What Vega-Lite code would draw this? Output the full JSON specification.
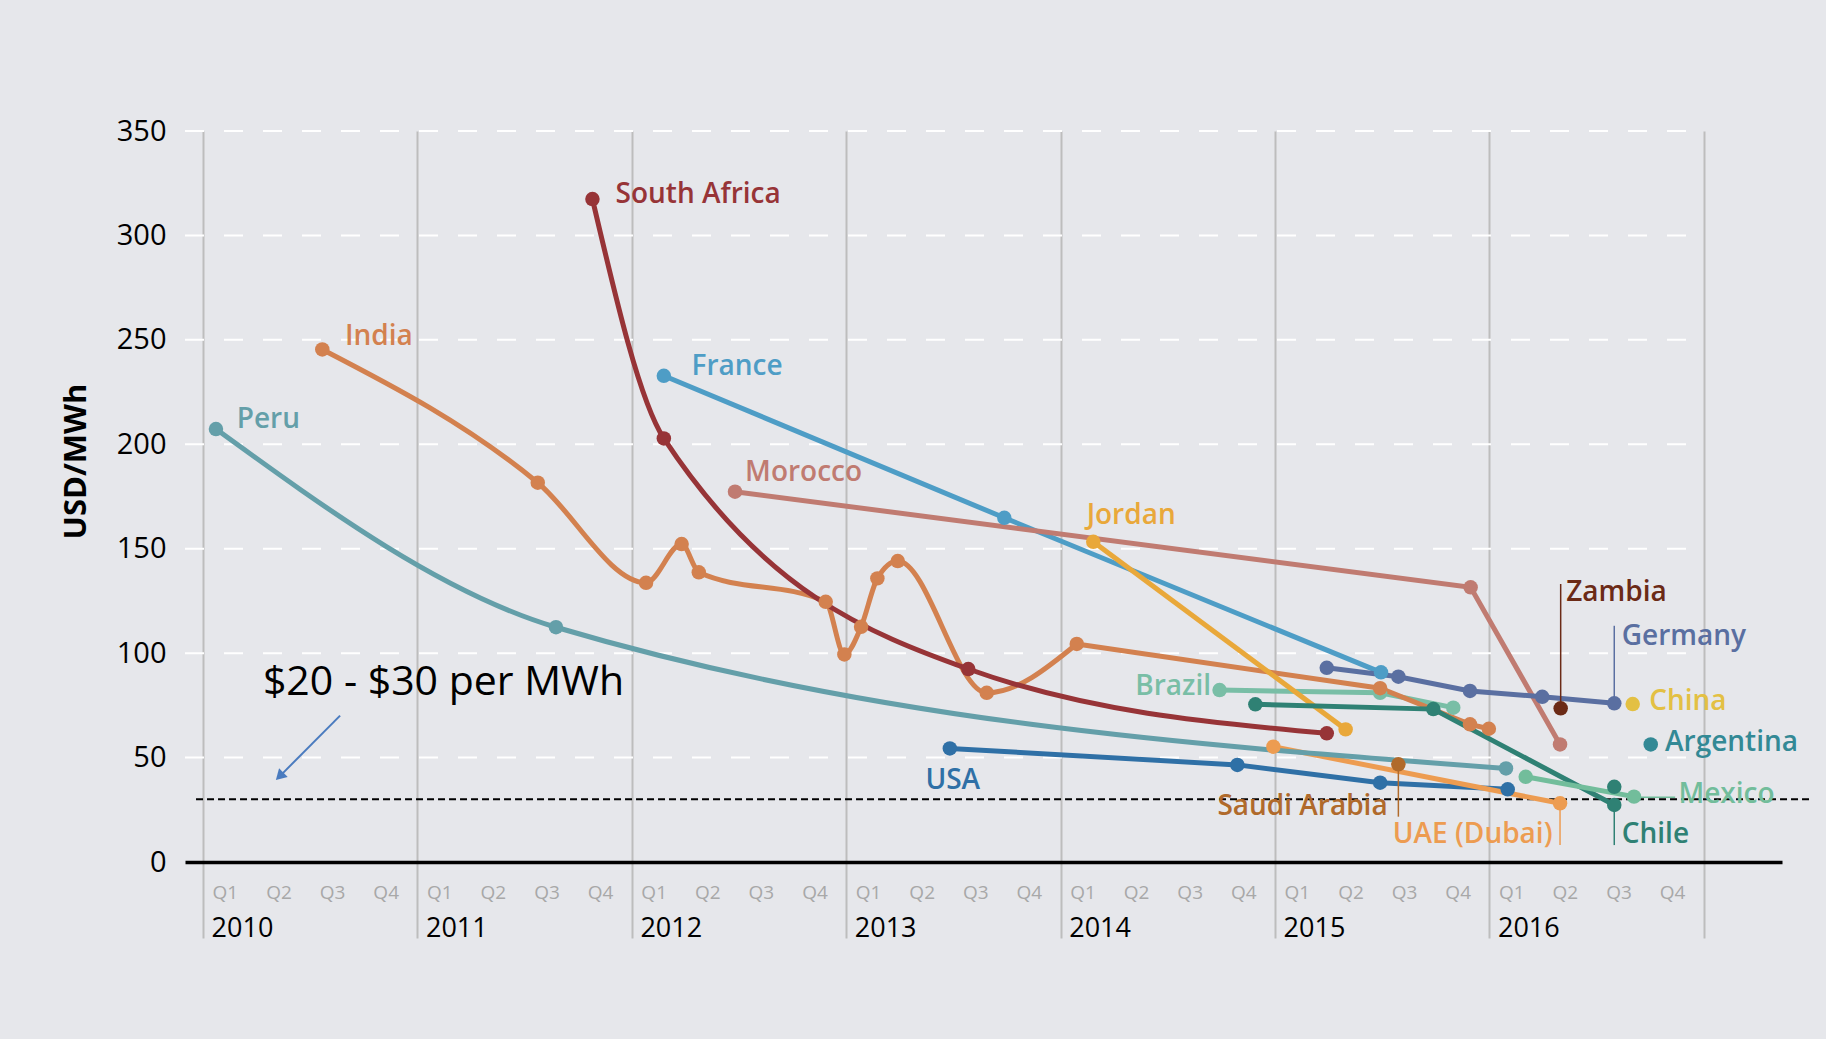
{
  "$schema": "https://vega.github.io/schema/vega-lite/v6.json",
  "width": 1597,
  "height": 731,
  "autosize": {"type": "none"},
  "padding": {"left": 185, "top": 131, "right": 44, "bottom": 177},
  "background": "#e6e7eb",
  "config": {"view": {"stroke": null}, "font": "Open Sans"},
  "resolve": {"axis": {"x": "independent", "y": "independent"}},
  "datasets": {
    "grid": [{"v": 50}, {"v": 100}, {"v": 150}, {"v": 200}, {"v": 250}, {"v": 300}, {"v": 350}],
    "series": [
      {"country": "Peru", "series": "Peru", "t": 2010.06, "v": 207.3},
      {"country": "Peru", "series": "Peru", "t": 2011.646, "v": 112.4},
      {"country": "Peru", "series": "Peru", "t": 2016.077, "v": 44.8},
      {"country": "Brazil", "series": "Brazil", "t": 2014.741, "v": 82.3},
      {"country": "Brazil", "series": "Brazil", "t": 2015.49, "v": 81.0},
      {"country": "Brazil", "series": "Brazil", "t": 2015.831, "v": 73.9},
      {"country": "India", "series": "India", "t": 2010.556, "v": 245.4},
      {"country": "India", "series": "India", "t": 2011.561, "v": 181.6},
      {"country": "India", "series": "India", "t": 2012.066, "v": 133.7},
      {"country": "India", "series": "India", "t": 2012.232, "v": 152.2},
      {"country": "India", "series": "India", "t": 2012.312, "v": 138.7},
      {"country": "India", "series": "India", "t": 2012.904, "v": 124.6},
      {"country": "India", "series": "India", "t": 2012.991, "v": 99.4},
      {"country": "India", "series": "India", "t": 2013.069, "v": 112.6},
      {"country": "India", "series": "India", "t": 2013.145, "v": 135.8},
      {"country": "India", "series": "India", "t": 2013.24, "v": 144.1},
      {"country": "India", "series": "India", "t": 2013.655, "v": 81.0},
      {"country": "India", "series": "India", "t": 2014.075, "v": 104.4},
      {"country": "India", "series": "India", "t": 2015.49, "v": 83.2},
      {"country": "India", "series": "India", "t": 2015.909, "v": 65.9},
      {"country": "India", "series": "India", "t": 2015.997, "v": 63.8},
      {"country": "South Africa", "series": "South Africa", "t": 2011.816, "v": 317.4},
      {"country": "South Africa", "series": "South Africa", "t": 2012.149, "v": 202.8},
      {"country": "South Africa", "series": "South Africa", "t": 2013.569, "v": 92.4},
      {"country": "South Africa", "series": "South Africa", "t": 2015.241, "v": 61.6},
      {"country": "France", "series": "France", "t": 2012.149, "v": 232.8},
      {"country": "France", "series": "France", "t": 2013.737, "v": 164.8},
      {"country": "France", "series": "France", "t": 2015.494, "v": 90.8},
      {"country": "Morocco", "series": "Morocco", "t": 2012.481, "v": 177.3},
      {"country": "Morocco", "series": "Morocco", "t": 2015.912, "v": 131.5},
      {"country": "Morocco", "series": "Morocco", "t": 2016.329, "v": 56.3},
      {"country": "Jordan", "series": "Jordan", "t": 2014.152, "v": 153.3},
      {"country": "Jordan", "series": "Jordan", "t": 2015.329, "v": 63.5},
      {"country": "Chile", "series": "Chile", "t": 2014.908, "v": 75.5},
      {"country": "Chile", "series": "Chile", "t": 2015.738, "v": 73.2},
      {"country": "Chile", "series": "Chile", "t": 2016.582, "v": 27.3},
      {"country": "Chile", "series": "Chile b", "t": 2016.582, "v": 36.0},
      {"country": "Mexico", "series": "Mexico", "t": 2016.169, "v": 40.8},
      {"country": "Mexico", "series": "Mexico", "t": 2016.674, "v": 31.3},
      {"country": "Germany", "series": "Germany", "t": 2015.241, "v": 93.0},
      {"country": "Germany", "series": "Germany", "t": 2015.575, "v": 88.7},
      {"country": "Germany", "series": "Germany", "t": 2015.909, "v": 81.9},
      {"country": "Germany", "series": "Germany", "t": 2016.246, "v": 79.1},
      {"country": "Germany", "series": "Germany", "t": 2016.582, "v": 76.0},
      {"country": "USA", "series": "USA", "t": 2013.483, "v": 54.4},
      {"country": "USA", "series": "USA", "t": 2014.824, "v": 46.5},
      {"country": "USA", "series": "USA", "t": 2015.49, "v": 38.0},
      {"country": "USA", "series": "USA", "t": 2016.085, "v": 34.8},
      {"country": "UAE (Dubai)", "series": "UAE (Dubai)", "t": 2014.992, "v": 55.2},
      {"country": "UAE (Dubai)", "series": "UAE (Dubai)", "t": 2016.329, "v": 28.1},
      {"country": "Saudi Arabia", "series": "Saudi Arabia", "t": 2015.575, "v": 46.8},
      {"country": "Zambia", "series": "Zambia", "t": 2016.332, "v": 73.6},
      {"country": "China", "series": "China", "t": 2016.668, "v": 75.6},
      {"country": "Argentina", "series": "Argentina", "t": 2016.752, "v": 56.3}
    ],
    "leaders": [
      {"country": "Zambia", "t": 2016.332, "v": 73.6, "t2": 2016.332, "v2": 133.1},
      {"country": "Germany", "t": 2016.582, "v": 76.0, "t2": 2016.582, "v2": 113.1},
      {"country": "Saudi Arabia", "t": 2015.575, "v": 46.8, "t2": 2015.575, "v2": 21.7},
      {"country": "UAE (Dubai)", "t": 2016.329, "v": 28.1, "t2": 2016.329, "v2": 8.1},
      {"country": "Chile", "t": 2016.582, "v": 27.3, "t2": 2016.582, "v2": 8.1},
      {"country": "Mexico", "t": 2016.674, "v": 31.0, "t2": 2016.866, "v2": 31.0}
    ],
    "labels": [
      {"country": "Peru", "t": 2010.157, "v": 211.6},
      {"country": "India", "t": 2010.662, "v": 251.5},
      {"country": "South Africa", "t": 2011.924, "v": 319.3},
      {"country": "France", "t": 2012.278, "v": 237.1},
      {"country": "Morocco", "t": 2012.528, "v": 186.1},
      {"country": "Jordan", "t": 2014.121, "v": 165.6},
      {"country": "Brazil", "t": 2014.701, "v": 83.8},
      {"country": "USA", "t": 2013.369, "v": 38.9},
      {"country": "Saudi Arabia", "t": 2015.525, "v": 26.5},
      {"country": "UAE (Dubai)", "t": 2016.294, "v": 13.0},
      {"country": "Zambia", "t": 2016.358, "v": 128.6},
      {"country": "Germany", "t": 2016.617, "v": 107.9},
      {"country": "China", "t": 2016.745, "v": 76.7},
      {"country": "Argentina", "t": 2016.819, "v": 56.8},
      {"country": "Mexico", "t": 2016.881, "v": 32.1},
      {"country": "Chile", "t": 2016.617, "v": 12.9}
    ]
  },
  "layer": [
    {
      "data": {"name": "grid"},
      "mark": {"type": "rule", "color": "#ffffff", "strokeWidth": 2, "strokeDash": [19, 20]},
      "encoding": {
        "x": {"datum": 2009.9156, "type": "quantitative", "scale": {"domain": [2009.9156, 2017.3643], "nice": false, "zero": false}, "axis": null},
        "x2": {"datum": 2017},
        "y": {"field": "v", "type": "quantitative", "scale": {"domain": [0, 350], "nice": false, "zero": false},
          "axis": {"orient": "left", "values": [0, 50, 100, 150, 200, 250, 300, 350], "title": "USD/MWh", "grid": false, "ticks": false, "domain": false,
            "labelFont": "Open Sans", "labelFontSize": 29, "labelColor": "#000000", "labelPadding": 19, "labelOverlap": false, "labelBound": false, "labelFlush": false,
            "titleFont": "Open Sans", "titleFontSize": 31, "titleFontWeight": "bold", "titleColor": "#000000",
            "titleX": -109, "titleY": 330, "titleAngle": 270, "titleAlign": "center", "titleBaseline": "middle"}}
      }
    },
    {
      "data": {"values": [{}]},
      "mark": {"type": "rule", "color": "#000000", "strokeWidth": 2, "strokeDash": [7, 4]},
      "encoding": {
        "x": {"datum": 2009.967, "type": "quantitative", "scale": {"domain": [2009.9156, 2017.3643], "nice": false, "zero": false}, "axis": null},
        "x2": {"datum": 2017.5},
        "y": {"datum": 30, "type": "quantitative", "scale": {"domain": [0, 350], "nice": false, "zero": false}, "axis": null}
      }
    },
    {
      "data": {"values": [{}]},
      "mark": {"type": "rule", "color": "#4a7bbf", "strokeWidth": 2},
      "encoding": {
        "x": {"datum": 2010.639, "type": "quantitative", "scale": {"domain": [2009.9156, 2017.3643], "nice": false, "zero": false}, "axis": null},
        "x2": {"datum": 2010.357},
        "y": {"datum": 70.1, "type": "quantitative", "scale": {"domain": [0, 350], "nice": false, "zero": false}, "axis": null},
        "y2": {"datum": 41.0}
      }
    },
    {
      "data": {"values": [{}]},
      "mark": {"type": "point", "shape": "triangle-up", "filled": true, "color": "#4a7bbf", "size": 150, "angle": 225, "opacity": 1},
      "encoding": {
        "x": {"datum": 2010.357, "type": "quantitative", "scale": {"domain": [2009.9156, 2017.3643], "nice": false, "zero": false}, "axis": null},
        "y": {"datum": 41.0, "type": "quantitative", "scale": {"domain": [0, 350], "nice": false, "zero": false}, "axis": null}
      }
    },
    {
      "data": {"values": [{}]},
      "mark": {"type": "text", "text": "$20 - $30 per MWh", "align": "left", "baseline": "middle", "fontSize": 41, "font": "Open Sans", "color": "#000000"},
      "encoding": {
        "x": {"datum": 2010.279, "type": "quantitative", "scale": {"domain": [2009.9156, 2017.3643], "nice": false, "zero": false}, "axis": null},
        "y": {"datum": 85.5, "type": "quantitative", "scale": {"domain": [0, 350], "nice": false, "zero": false}, "axis": null}
      }
    },
    {
      "data": {"name": "series"},
      "transform": [{"filter": "(datum.country != 'Peru' && datum.country != 'India' && datum.country != 'South Africa') || (datum.country == 'India' && datum.t > 2014)"}],
      "mark": {"type": "line", "strokeWidth": 5},
      "encoding": {
        "x": {"field": "t", "type": "quantitative", "scale": {"domain": [2009.9156, 2017.3643], "nice": false, "zero": false},
          "axis": {"orient": "bottom", "title": null, "zindex": 1,
            "values": [2010.125, 2010.375, 2010.625, 2010.875, 2011.125, 2011.375, 2011.625, 2011.875, 2012.125, 2012.375, 2012.625, 2012.875, 2013.125, 2013.375, 2013.625, 2013.875, 2014.125, 2014.375, 2014.625, 2014.875, 2015.125, 2015.375, 2015.625, 2015.875, 2016.125, 2016.375, 2016.625, 2016.875],
            "labelExpr": "'Q' + (floor((datum.value - floor(datum.value)) * 4) + 1)",
            "grid": false, "ticks": false, "tickSize": 0, "domain": true, "domainColor": "#000000", "domainWidth": 3.5,
            "labelFont": "Open Sans", "labelFontSize": 19, "labelColor": "#a8a8a8", "labelBaseline": "middle", "labelAlign": "center",
            "labelPadding": 30, "labelOffset": -5, "labelOverlap": false, "labelBound": false, "labelFlush": false}},
        "y": {"field": "v", "type": "quantitative", "scale": {"domain": [0, 350], "nice": false, "zero": false}, "axis": null},
        "color": {"field": "country", "type": "nominal", "legend": null,
          "scale": {"domain": ["Peru", "India", "South Africa", "France", "Morocco", "Jordan", "Brazil", "Chile", "Mexico", "Germany", "USA", "UAE (Dubai)", "Saudi Arabia", "Zambia", "China", "Argentina"],
            "range": ["#649fa9", "#d3814f", "#973437", "#4e9dc6", "#c07b71", "#e9a83a", "#79bea6", "#2f8174", "#72bd9b", "#5a6fa1", "#2f70a6", "#ed9c51", "#b06a2b", "#6b2a16", "#e3c043", "#338995"]}},
        "detail": {"field": "series"}
      }
    },
    {
      "data": {"name": "series"},
      "transform": [{"filter": "datum.country == 'Peru' || datum.country == 'South Africa' || (datum.country == 'India' && datum.t < 2014.1)"}],
      "mark": {"type": "line", "strokeWidth": 5, "interpolate": "monotone"},
      "encoding": {
        "x": {"field": "t", "type": "quantitative", "scale": {"domain": [2009.9156, 2017.3643], "nice": false, "zero": false}, "axis": null},
        "y": {"field": "v", "type": "quantitative", "scale": {"domain": [0, 350], "nice": false, "zero": false}, "axis": null},
        "color": {"field": "country", "type": "nominal", "legend": null},
        "detail": {"field": "series"}
      }
    },
    {
      "data": {"name": "leaders"},
      "mark": {"type": "rule", "strokeWidth": 1.5},
      "encoding": {
        "x": {"field": "t", "type": "quantitative", "scale": {"domain": [2009.9156, 2017.3643], "nice": false, "zero": false}, "axis": null},
        "x2": {"field": "t2"},
        "y": {"field": "v", "type": "quantitative", "scale": {"domain": [0, 350], "nice": false, "zero": false}, "axis": null},
        "y2": {"field": "v2"},
        "color": {"field": "country", "type": "nominal", "legend": null}
      }
    },
    {
      "data": {"name": "series"},
      "mark": {"type": "circle", "size": 210, "opacity": 1},
      "encoding": {
        "x": {"field": "t", "type": "quantitative", "scale": {"domain": [2009.9156, 2017.3643], "nice": false, "zero": false},
          "axis": {"orient": "bottom", "title": null, "zindex": 0,
            "values": [2010, 2011, 2012, 2013, 2014, 2015, 2016, 2017],
            "labelExpr": "datum.value < 2017 ? format(datum.value, 'd') : ''",
            "grid": true, "gridColor": "#bdbdbd", "gridWidth": 2,
            "ticks": true, "tickSize": 76, "tickColor": "#bdbdbd", "tickWidth": 2, "domain": false,
            "labelFont": "Open Sans", "labelFontSize": 27, "labelColor": "#000000", "labelAlign": "left", "labelBaseline": "middle",
            "labelOffset": 8, "labelPadding": -10, "labelOverlap": false, "labelBound": false, "labelFlush": false}},
        "y": {"field": "v", "type": "quantitative", "scale": {"domain": [0, 350], "nice": false, "zero": false}, "axis": null},
        "color": {"field": "country", "type": "nominal", "legend": null}
      }
    },
    {
      "data": {"name": "labels"},
      "transform": [{"filter": {"not": {"field": "country", "oneOf": ["Brazil", "Saudi Arabia", "UAE (Dubai)"]}}}],
      "mark": {"type": "text", "align": "left", "baseline": "middle", "fontSize": 28, "fontWeight": 600, "font": "Open Sans"},
      "encoding": {
        "x": {"field": "t", "type": "quantitative", "scale": {"domain": [2009.9156, 2017.3643], "nice": false, "zero": false}, "axis": null},
        "y": {"field": "v", "type": "quantitative", "scale": {"domain": [0, 350], "nice": false, "zero": false}, "axis": null},
        "text": {"field": "country"},
        "color": {"field": "country", "type": "nominal", "legend": null}
      }
    },
    {
      "data": {"name": "labels"},
      "transform": [{"filter": {"field": "country", "oneOf": ["Brazil", "Saudi Arabia", "UAE (Dubai)"]}}],
      "mark": {"type": "text", "align": "right", "baseline": "middle", "fontSize": 28, "fontWeight": 600, "font": "Open Sans"},
      "encoding": {
        "x": {"field": "t", "type": "quantitative", "scale": {"domain": [2009.9156, 2017.3643], "nice": false, "zero": false}, "axis": null},
        "y": {"field": "v", "type": "quantitative", "scale": {"domain": [0, 350], "nice": false, "zero": false}, "axis": null},
        "text": {"field": "country"},
        "color": {"field": "country", "type": "nominal", "legend": null}
      }
    }
  ]
}
